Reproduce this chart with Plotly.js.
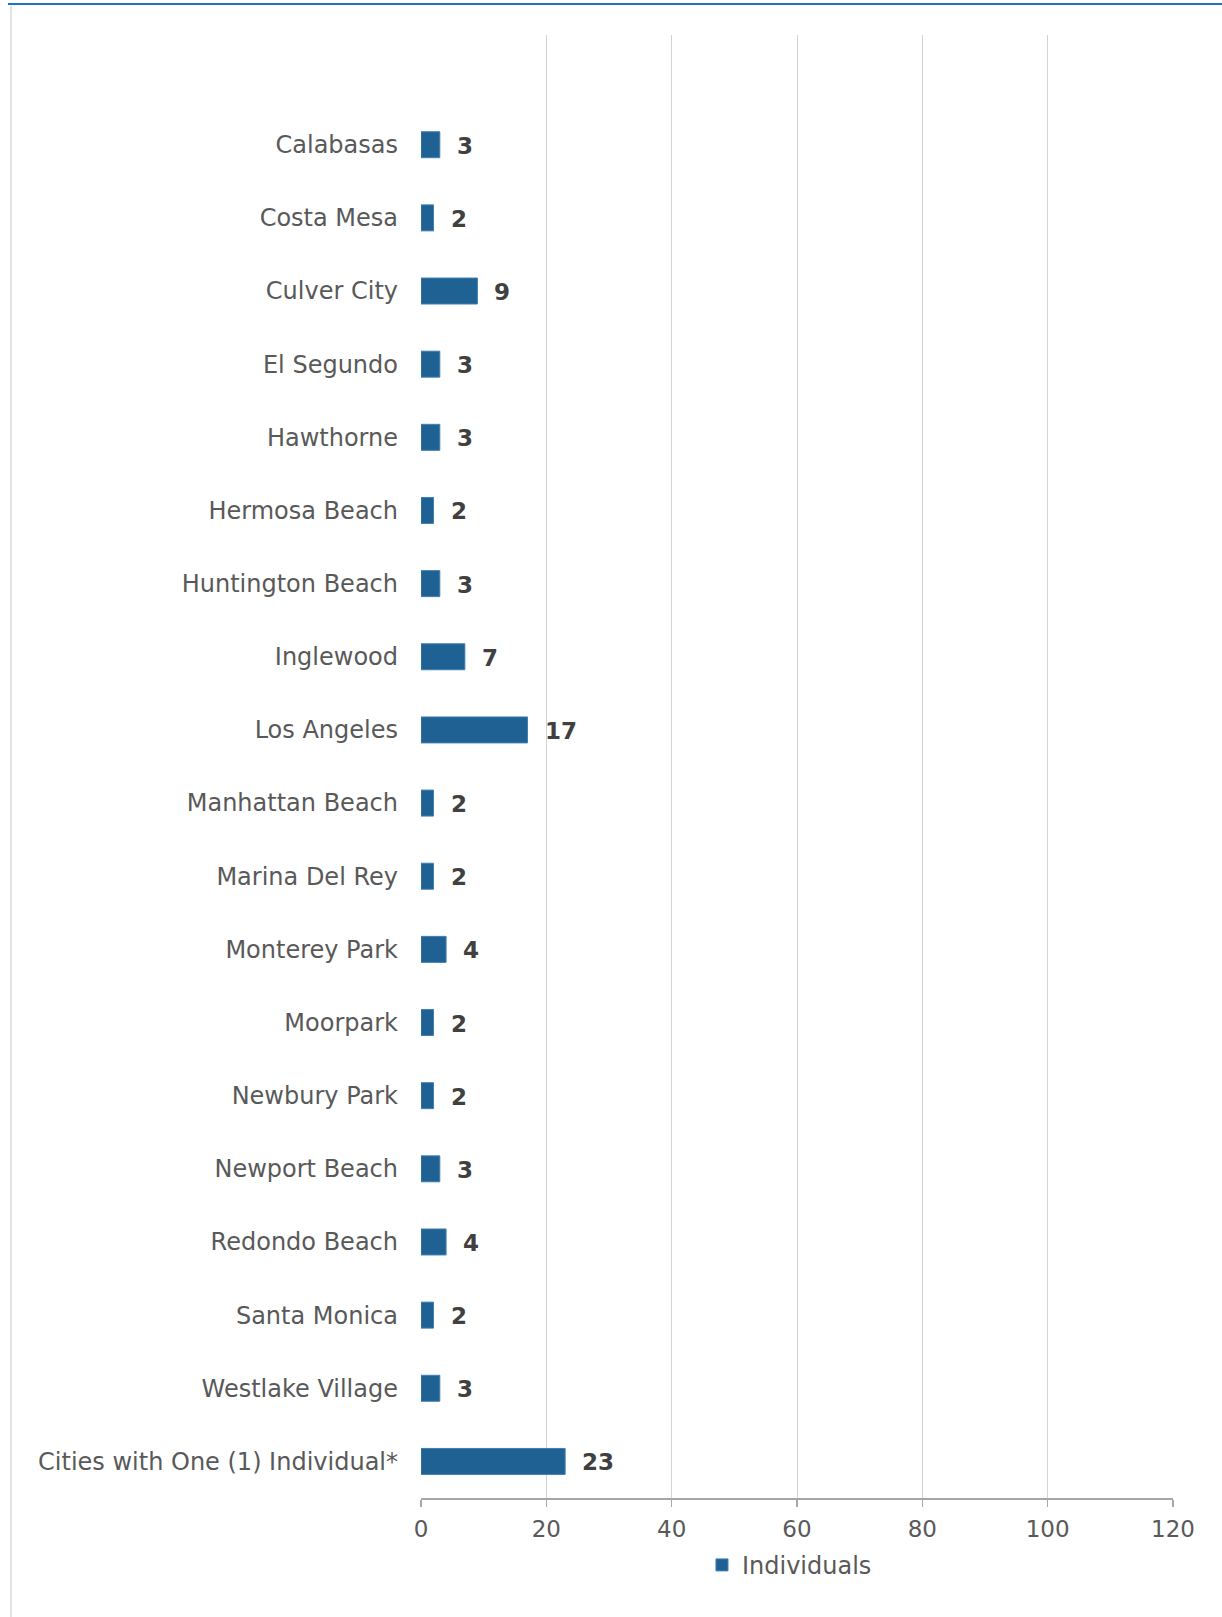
<!DOCTYPE html>
<html>
<head>
<meta charset="utf-8">
<script src="https://cdn.plot.ly/plotly-3.0.1.min.js"></script>
<style>
  html, body { margin: 0; padding: 0; background: #ffffff; }
  #chart { width: 1222px; height: 1617px; }
</style>
</head>
<body>
<div id="chart"></div>
<script>
const cities = [
  "Calabasas", "Costa Mesa", "Culver City", "El Segundo", "Hawthorne",
  "Hermosa Beach", "Huntington Beach", "Inglewood", "Los Angeles",
  "Manhattan Beach", "Marina Del Rey", "Monterey Park", "Moorpark",
  "Newbury Park", "Newport Beach", "Redondo Beach", "Santa Monica",
  "Westlake Village", "Cities with One (1) Individual*"
];
const individuals = [3, 2, 9, 3, 3, 2, 3, 7, 17, 2, 2, 4, 2, 2, 3, 4, 2, 3, 23];
const seriesName = "Individuals";
const xTicks = [0, 20, 40, 60, 80, 100, 120];

const FONT = "DejaVu Sans, Verdana, sans-serif";
const BAR = "#1f6192";

const trace = {
  type: "bar",
  orientation: "h",
  name: seriesName,
  x: individuals,
  y: cities,
  width: 0.355,
  marker: { color: BAR, line: { color: "#3f7fb3", width: 1 } },
  hoverinfo: "x+y"
};

const annotations = cities.map((c, i) => ({
  x: individuals[i],
  y: c,
  xref: "x",
  yref: "y",
  text: String(individuals[i]),
  showarrow: false,
  xanchor: "left",
  yanchor: "middle",
  xshift: 15,
  yshift: -1,
  font: { family: FONT, size: 23, color: "#404040", weight: "bold" }
}));

const layout = {
  width: 1222,
  height: 1617,
  margin: { l: 421, r: 49, t: 35, b: 119 },
  paper_bgcolor: "#ffffff",
  plot_bgcolor: "#ffffff",
  font: { family: FONT, size: 23, color: "#595959" },
  showlegend: true,
  legend: {
    orientation: "h",
    x: 0.49, xanchor: "center",
    y: -0.046, yanchor: "middle",
    font: { family: FONT, size: 24, color: "#595959" },
    itemwidth: 30
  },
  xaxis: {
    range: [0, 120],
    tickvals: xTicks,
    ticktext: xTicks.map(String),
    showgrid: true,
    gridcolor: "#d3d3d3",
    gridwidth: 1,
    zeroline: false,
    showline: true,
    linecolor: "#a6a6a6",
    linewidth: 1.5,
    ticks: "outside",
    ticklen: 7,
    tickcolor: "#a6a6a6",
    tickwidth: 1.5,
    ticklabelstandoff: 3,
    tickfont: { family: FONT, size: 23, color: "#595959" },
    fixedrange: true
  },
  yaxis: {
    type: "category",
    categoryorder: "array",
    categoryarray: cities,
    range: [cities.length - 0.5, -1.5],
    showgrid: false,
    zeroline: false,
    showline: false,
    ticks: "",
    ticklabelstandoff: 22,
    tickfont: { family: FONT, size: 24, color: "#595959" },
    fixedrange: true
  },
  annotations: annotations,
  shapes: [
    {
      type: "line", xref: "paper", yref: "paper",
      x0: (8 - 421) / 752, x1: (1222 - 421) / 752,
      y0: 1 + (35 - 4) / 1463, y1: 1 + (35 - 4) / 1463,
      line: { color: "#1a75c4", width: 2 }
    },
    {
      type: "line", xref: "paper", yref: "paper",
      x0: (11 - 421) / 752, x1: (11 - 421) / 752,
      y0: 1 + (35 - 6) / 1463, y1: -(1617 - 1498) / 1463,
      line: { color: "#d9d9d9", width: 1.5 }
    }
  ],
  bargap: 0.6
};

Plotly.newPlot("chart", [trace], layout, { displayModeBar: false, staticPlot: true });
</script>
</body>
</html>
